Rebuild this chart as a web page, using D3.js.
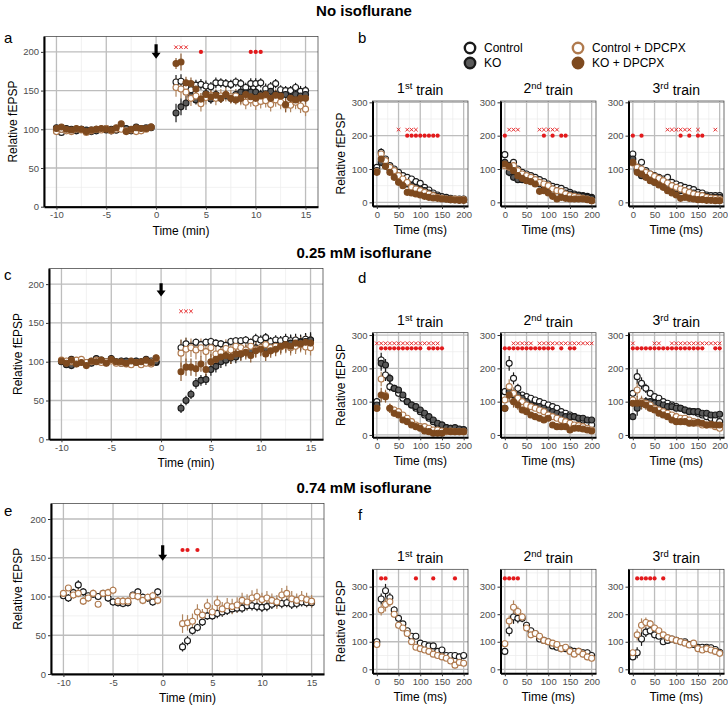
<!DOCTYPE html>
<html>
<head>
<meta charset="utf-8">
<script src="https://cdn.jsdelivr.net/npm/d3@7"></script>
<style>
  body { margin: 0; background: #fff; }
  svg text { font-family: "Liberation Sans", Arial, sans-serif; }
</style>
</head>
<body>
<svg id="fig" width="728" height="705"></svg>
<script>
// ---- x positions ----
var baseTimes = [-10,-9.5,-9,-8.5,-8,-7.5,-7,-6.5,-6,-5.5,-5,-4.5,-4,-3.5,-3,-2.5,-2,-1.5,-1,-0.5];
var postTimes = [2,2.5,3,3.5,4,4.5,5,5.5,6,6.5,7,7.5,8,8.5,9,9.5,10,10.5,11,11.5,12,12.5,13,13.5,14,14.5,15];
var minTimes = baseTimes.concat(postTimes);
var trainTimes = [0,10,20,30,40,50,60,70,80,90,100,110,120,130,140,150,160,170,180,190,200];
var trainNames = ["1", "2", "3"];
var trainSup = ["st", "nd", "rd"];
var seriesNames = ["Control", "KO", "Control + DPCPX", "KO + DPCPX"];

// ---- panel a : no isoflurane, time course ----
var a_ctrl = [98,96,100,99,98,100,99,97,98,100,101,100,99,101,100,98,102,101,102,103,
  161,162,154,151,157,158,156,155,160,160,159,158,161,159,154,159,159,160,152,155,159,151,150,150,154,149,150];
var a_ko = [102,100,101,100,99,100,98,99,100,100,99,98,99,103,101,99,103,100,101,102,
  121,129,134,143,138,137,146,139,145,140,144,140,145,148,147,148,148,145,146,149,145,143,145,141,145,143,145];
var a_ctrlD = [97,100,98,97,100,99,96,98,100,99,101,98,100,100,98,99,97,98,100,103,
  154,152,148,140,143,133,141,144,140,143,145,142,143,140,135,138,134,136,137,132,138,135,131,131,135,130,126];
var a_koD = [101,103,100,99,101,100,97,99,100,101,100,99,102,107,97,100,102,101,101,103,
  185,187,160,159,152,139,145,142,144,140,145,140,138,140,145,142,140,143,145,140,144,143,132,140,138,140,140];
var a_ctrl_se = [3,3,3,3,3,3,3,3,3,3,3,3,3,3,3,3,3,3,3,3,
  9,9,8,8,7,7,7,6,7,6,6,6,6,6,6,7,7,6,7,6,6,6,6,6,6,7,6];
var a_ko_se = [3,3,3,3,3,3,3,3,3,3,3,3,3,3,3,3,3,3,3,3,
  12,11,9,7,6,6,6,6,6,6,6,6,6,6,6,6,6,6,6,6,6,6,6,6,6,6,6];
var a_ctrlD_se = [3,3,3,3,3,3,3,3,3,3,3,3,3,3,3,3,3,3,3,3,
  12,12,11,10,10,10,9,9,9,9,9,9,9,9,9,9,9,9,9,9,9,9,9,9,9,9,9];
var a_koD_se = [3,3,3,3,3,3,3,3,3,3,3,3,3,3,3,3,3,3,3,3,
  7,11,8,8,8,8,7,7,7,6,6,6,6,7,7,7,7,6,6,6,7,7,10,8,7,7,7];
var a_sigCross = [2, 2.5, 3];
var a_sigDot = [4.5, 9.5, 10, 10.5];

// ---- panel c : 0.25 mM isoflurane ----
var c_ctrl = [101,100,103,98,101,99,100,103,101,100,102,99,98,100,100,99,98,100,101,99,
  118,123,120,125,122,125,126,124,123,121,126,127,127,128,125,130,128,131,126,128,127,129,127,128,126,129,128];
var c_ko = [100,96,95,98,100,99,98,104,102,99,104,100,101,101,98,101,100,103,98,100,
  40,50,58,72,76,77,90,94,100,102,105,106,110,114,115,118,118,117,119,121,120,122,124,123,125,126,128];
var c_ctrlD = [102,101,100,102,103,99,100,102,99,100,101,98,98,97,96,99,96,98,97,104,
  111,116,118,115,118,113,118,110,112,117,115,120,118,115,120,116,118,122,118,120,119,121,118,120,122,119,118];
var c_koD = [101,98,102,97,99,95,101,100,102,98,103,100,100,98,101,99,100,102,99,105,
  87,93,93,91,97,90,100,103,106,108,106,110,110,112,108,114,116,110,114,116,120,122,120,124,123,125,124];
var c_ctrl_se = [4,4,4,4,4,4,4,4,4,4,4,4,4,4,4,4,4,4,4,4,
  10,8,6,5,5,5,5,5,5,5,5,5,5,5,5,6,6,6,6,6,6,7,8,8,8,8,8];
var c_ko_se = [4,4,4,4,4,4,4,4,4,4,4,4,4,4,4,4,4,4,4,4,
  6,6,6,7,7,7,8,8,8,8,8,8,8,8,8,8,9,9,9,9,9,10,10,10,10,10,10];
var c_ctrlD_se = [4,4,4,4,4,4,4,4,4,4,4,4,4,4,4,4,4,4,4,4,
  18,15,12,12,12,12,12,12,12,12,10,10,10,10,10,10,10,10,10,10,10,10,10,10,10,10,10];
var c_koD_se = [4,4,4,4,4,4,4,4,4,4,4,4,4,4,4,4,4,4,4,4,
  12,11,11,10,10,10,10,10,10,9,9,9,9,9,9,9,9,9,9,9,9,9,9,9,9,9,9];
var c_sigCross = [2, 2.5, 3];
var c_sigDot = [];

// ---- panel e : 0.74 mM isoflurane ----
var e_ctrl = [101,98,105,115,106,101,103,100,104,98,93,92,91,92,102,106,99,98,93,106,
  35,43,56,60,67,75,75,78,80,82,84,85,85,88,88,87,86,87,90,92,91,92,90,91,93,92,92];
var e_ctrlD = [104,111,102,104,94,98,104,90,104,105,108,94,94,94,101,100,95,99,101,95,
  65,66,68,80,76,88,80,92,84,88,87,89,95,93,98,100,96,98,95,93,102,104,97,95,98,96,94];
var e_ctrl_se = [4,5,5,6,5,4,5,4,4,5,5,5,5,5,4,5,5,5,5,5,
  6,6,5,5,5,5,5,6,6,6,6,6,6,6,6,6,6,6,6,6,6,6,6,6,6,6,6];
var e_ctrlD_se = [4,4,5,5,5,5,5,4,4,5,5,5,5,5,4,5,5,5,5,5,
  12,10,10,10,8,9,9,9,9,10,10,10,10,10,10,10,9,9,9,9,9,10,10,9,9,9,8];
var e_sigCross = [];
var e_sigDot = [2, 2.5, 3.5];

// ---- panel b : trains, no isoflurane ----
var b_ctrl = [
  [105,150,130,110,100,90,80,75,70,62,57,45,37,28,22,17,15,12,10,10,10],
  [143,110,120,100,90,85,80,75,68,62,55,48,45,42,35,30,25,22,20,18,15],
  [145,100,120,95,85,80,75,70,75,60,55,50,45,42,38,30,28,22,20,20,20]];
var b_ko = [
  [95,120,110,100,90,75,65,55,50,45,40,35,28,22,18,12,10,8,8,7,7],
  [120,90,75,68,68,70,65,60,55,50,45,40,35,30,28,25,22,20,18,15,12],
  [130,95,80,80,70,60,60,55,50,45,40,35,35,30,28,22,20,18,15,15,15]];
var b_ctrlD = [
  [92,145,125,105,95,80,70,60,45,40,35,30,25,20,15,12,10,10,10,8,8],
  [110,105,110,95,85,80,75,68,60,55,50,40,35,33,25,20,18,15,12,10,5],
  [118,105,100,90,85,78,72,65,58,50,45,40,35,30,25,22,20,15,13,12,10]];
var b_koD = [
  [90,130,108,90,75,60,50,30,28,25,22,18,15,13,12,10,10,8,7,6,6],
  [115,108,95,80,72,65,62,55,33,35,28,18,10,15,12,10,10,10,10,8,5],
  [120,90,85,75,65,60,52,45,35,28,22,12,15,12,10,8,8,6,6,5,5]];
var b_se = [8,12,8,7,6,5,5,5,4,4,4,4,4,3,3,3,3,3,3,3,3];
var b_sigCross = [[50,70,80,90], [10,20,30,80,90,100,110,120], [80,90,100,110,120,130,150,190]];
var b_sigDot = [[70,80,90,100,110,120,130,140], [0,90,110,130,140], [0,20,110,130,150,160]];

// ---- panel d : trains, 0.25 mM isoflurane ----
var d_ctrl = [
  [100,225,180,145,140,125,110,100,90,80,70,60,50,40,32,30,22,20,18,15,15],
  [130,215,170,140,120,115,110,105,100,95,90,85,80,70,65,60,55,50,45,35,30],
  [125,175,155,140,125,115,110,100,95,90,85,80,75,72,70,65,60,55,50,45,40]];
var d_ko = [
  [90,215,210,170,140,135,120,100,90,85,75,65,55,45,35,30,22,20,22,18,16],
  [80,130,120,120,110,100,90,85,85,80,75,70,65,60,55,55,55,50,50,45,45],
  [55,80,95,100,100,95,95,90,85,85,80,80,75,70,70,70,65,65,60,60,62]];
var d_ctrlD = [
  [80,168,118,80,75,70,60,50,40,30,25,25,20,15,15,12,10,12,10,10,10],
  [105,145,125,110,100,90,85,80,75,70,60,55,50,45,40,35,30,28,25,20,15],
  [105,135,100,95,90,80,75,70,65,60,55,50,50,45,40,35,30,30,30,25,20]];
var d_koD = [
  [80,120,115,80,65,60,45,40,30,25,20,12,10,5,5,5,12,10,10,10,10],
  [80,120,100,90,75,70,60,55,50,45,50,30,25,25,25,15,20,20,18,15,12],
  [95,95,95,90,80,75,65,60,55,45,40,40,40,35,35,38,35,30,32,30,30]];
var d_se = [10,22,18,14,10,8,7,6,6,5,5,5,5,4,4,4,4,4,4,4,4];
var d_sigCross = [
  [0,10,20,30,40,50,60,70,80,90,100,110,120,130,140],
  [20,30,40,50,60,80,90,100,110,120,130,140,150,160,170,180,190,200],
  [0,50,60,90,100,110,120,130,140,150,160,170,180,190,200]];
var d_sigDot = [
  [10,20,30,40,50,60,70,80,90,100,120,130,140,150],
  [0,10,20,30,40,50,60,70,80,90,100,110,130,150,160],
  [0,10,20,30,40,50,60,70,80,90,100,110,120,130,140,150,160,190,200]];

// ---- panel f : trains, 0.74 mM isoflurane ----
var f_ctrl = [
  [100,255,285,260,215,185,165,140,120,120,95,90,85,85,65,70,50,50,50,45,50],
  [65,140,190,185,185,160,140,130,110,105,100,85,80,75,75,70,65,65,60,60,50],
  [45,60,110,135,140,125,120,100,105,110,105,100,100,90,90,80,80,80,78,72,62]];
var f_ctrlD = [
  [90,215,235,245,200,160,150,130,100,80,75,70,65,55,50,45,40,30,15,25,22],
  [93,175,225,210,190,150,125,130,120,105,100,95,90,75,80,65,55,65,55,45,40],
  [60,125,160,170,165,150,140,125,115,110,105,100,95,88,95,75,70,75,70,65,58]];
var f_se = [8,20,25,18,14,12,10,10,10,10,10,10,10,10,10,10,10,10,12,12,12];
var f_sigCross = [[], [], []];
var f_sigDot = [[10,20,90,130,180], [0,10,20,30], [10,20,30,40,50,70]];

// ---- styles ----
var styles = {
  "Control":         {fill: "#ffffff", stroke: "#1a1a1a", bar: "#1a1a1a"},
  "KO":              {fill: "#5a5a5a", stroke: "#1a1a1a", bar: "#1a1a1a"},
  "Control + DPCPX": {fill: "#ffffff", stroke: "#b07a4e", bar: "#b08660"},
  "KO + DPCPX":      {fill: "#7e4a1f", stroke: "#7e4a1f", bar: "#8a5a32"}
};
var red = "#e31a1c";

var svg = d3.select("#fig");

function txt(x, y, s, size, opts){
  opts = opts || {};
  return svg.append("text").attr("x", x).attr("y", y)
    .attr("text-anchor", opts.anchor || "start")
    .style("font-size", size + "px")
    .style("font-weight", opts.bold ? "bold" : "normal")
    .attr("fill", opts.fill || "#000")
    .text(s);
}

function grid(g, x, y, minX, minY, majX, majY){
  var x0 = x.range()[0], x1 = x.range()[1], y0 = y.range()[0], y1 = y.range()[1];
  g.append("rect").attr("x", x0).attr("y", y1).attr("width", x1 - x0).attr("height", y0 - y1).attr("fill", "#fff");
  minX.forEach(function(v){ g.append("line").attr("x1", x(v)).attr("x2", x(v)).attr("y1", y0).attr("y2", y1).attr("stroke", "#ebebeb").attr("stroke-width", 0.7); });
  minY.forEach(function(v){ g.append("line").attr("x1", x0).attr("x2", x1).attr("y1", y(v)).attr("y2", y(v)).attr("stroke", "#ebebeb").attr("stroke-width", 0.7); });
  majX.forEach(function(v){ g.append("line").attr("x1", x(v)).attr("x2", x(v)).attr("y1", y0).attr("y2", y1).attr("stroke", "#bdbdbd").attr("stroke-width", 1.3); });
  majY.forEach(function(v){ g.append("line").attr("x1", x0).attr("x2", x1).attr("y1", y(v)).attr("y2", y(v)).attr("stroke", "#bdbdbd").attr("stroke-width", 1.3); });
  g.append("rect").attr("x", x0).attr("y", y1).attr("width", x1 - x0).attr("height", y0 - y1)
    .attr("fill", "none").attr("stroke", "#333").attr("stroke-width", 0.7);
}

function axes(g, x, y, xt, yt){
  var fmt = function(d){ return String(d); };
  var bx = g.append("g").attr("transform", "translate(0," + y.range()[0] + ")")
    .call(d3.axisBottom(x).tickValues(xt).tickFormat(fmt).tickSize(3).tickSizeOuter(0).tickPadding(2));
  var ly = g.append("g").attr("transform", "translate(" + x.range()[0] + ",0)")
    .call(d3.axisLeft(y).tickValues(yt).tickFormat(fmt).tickSize(3).tickSizeOuter(0).tickPadding(2));
  [bx, ly].forEach(function(a){
    a.select(".domain").attr("stroke", "#000").attr("stroke-width", 2);
    a.selectAll(".tick line").attr("stroke", "#333");
    a.selectAll(".tick text").attr("fill", "#4d4d4d").style("font-size", "9.5px")
      .style("font-family", '"Liberation Sans", Arial, sans-serif');
  });
}

function plotSeries(g, x, y, list, r){
  list.forEach(function(s){
    var st = styles[s.name];
    g.selectAll(null).data(s.xs).enter().append("line")
      .attr("x1", function(d){ return x(d); }).attr("x2", function(d){ return x(d); })
      .attr("y1", function(d, i){ return y(s.ys[i] - s.se[i]); })
      .attr("y2", function(d, i){ return y(s.ys[i] + s.se[i]); })
      .attr("stroke", st.bar).attr("stroke-width", 1.2);
  });
  list.forEach(function(s){
    var st = styles[s.name];
    g.selectAll(null).data(s.xs).enter().append("circle")
      .attr("cx", function(d){ return x(d); })
      .attr("cy", function(d, i){ return y(s.ys[i]); })
      .attr("r", r).attr("fill", st.fill).attr("stroke", st.stroke).attr("stroke-width", 1.1);
  });
}

function sigMarks(g, x, y, crosses, crossLevel, dots, dotLevel){
  g.selectAll(null).data(crosses).enter().append("path")
    .attr("d", function(d){ var cx = x(d), cy = y(crossLevel);
      return "M" + (cx - 1.8) + "," + (cy - 1.8) + "L" + (cx + 1.8) + "," + (cy + 1.8) +
             "M" + (cx - 1.8) + "," + (cy + 1.8) + "L" + (cx + 1.8) + "," + (cy - 1.8); })
    .attr("stroke", red).attr("stroke-width", 0.9).attr("fill", "none");
  g.selectAll(null).data(dots).enter().append("circle")
    .attr("cx", function(d){ return x(d); }).attr("cy", y(dotLevel))
    .attr("r", 2.1).attr("fill", red);
}

function arrow(g, cx, yTop, yTip){
  var hw = 4.5, sw = 1.6, hh = 6;
  g.append("path")
    .attr("d", "M" + (cx - sw) + "," + yTop + "L" + (cx + sw) + "," + yTop + "L" + (cx + sw) + "," + (yTip - hh) +
      "L" + (cx + hw) + "," + (yTip - hh) + "L" + cx + "," + yTip + "L" + (cx - hw) + "," + (yTip - hh) +
      "L" + (cx - sw) + "," + (yTip - hh) + "Z")
    .attr("fill", "#000");
}

function timePanel(cfg){
  var x = d3.scaleLinear().domain([-11.25, 16.25]).range([cfg.left, cfg.right]);
  var y = d3.scaleLinear().domain([0, 220]).range([cfg.bottom, cfg.top]);
  var g = svg.append("g");
  grid(g, x, y, [-7.5, -2.5, 2.5, 7.5, 12.5], [25, 75, 125, 175], [-10, -5, 0, 5, 10, 15], [0, 50, 100, 150, 200]);
  arrow(g, x(0), y(cfg.arrow[0]), y(cfg.arrow[1]));
  sigMarks(g, x, y, cfg.cross, cfg.crossLevel, cfg.dots, cfg.dotLevel);
  plotSeries(g, x, y, cfg.series.map(function(s){ return {name: s[0], xs: minTimes, ys: s[1], se: s[2]}; }), 3.0);
  axes(g, x, y, [-10, -5, 0, 5, 10, 15], [0, 50, 100, 150, 200]);
  txt((cfg.left + cfg.right) / 2, cfg.bottom + 28, "Time (min)", 12, {anchor: "middle"});
  svg.append("text").attr("transform", "translate(" + cfg.yTitleX + "," + ((cfg.top + cfg.bottom) / 2) + ") rotate(-90)")
    .attr("text-anchor", "middle").style("font-size", "12px").attr("dy", "0.35em").text("Relative fEPSP");
}

function trainRow(cfg){
  var lefts = [372.5, 500.5, 628.5], w = 95.5;
  lefts.forEach(function(left, k){
    var x = d3.scaleLinear().domain([-10, 210]).range([left, left + w]);
    var y = d3.scaleLinear().domain(cfg.ydom).range([cfg.bottom, cfg.top]);
    var g = svg.append("g");
    grid(g, x, y, [25, 75, 125, 175], cfg.minY, [0, 50, 100, 150, 200], [0, 100, 200, 300]);
    sigMarks(g, x, y, cfg.cross[k], cfg.crossLevel, cfg.dots[k], cfg.dotLevel);
    plotSeries(g, x, y, cfg.series.map(function(s){ return {name: s[0], xs: trainTimes, ys: s[1][k], se: s[2]}; }), 3.0);
    axes(g, x, y, [0, 50, 100, 150, 200], [0, 100, 200, 300]);
    var t = svg.append("text").attr("x", left + w / 2).attr("y", cfg.titleY).attr("text-anchor", "middle")
      .style("font-size", "14px");
    t.append("tspan").text(trainNames[k]);
    t.append("tspan").attr("dy", "-0.45em").style("font-size", "9.5px").text(trainSup[k]);
    t.append("tspan").attr("dy", "0.45em").text(" train");
    txt(left + w / 2, cfg.bottom + 28, "Time (ms)", 12, {anchor: "middle"});
  });
  svg.append("text").attr("transform", "translate(341," + ((cfg.top + cfg.bottom) / 2) + ") rotate(-90)")
    .attr("text-anchor", "middle").style("font-size", "12px").attr("dy", "0.35em").text("Relative fEPSP");
}

// ---- section titles and panel letters ----
txt(364, 16, "No isoflurane", 15, {anchor: "middle", bold: true});
txt(364, 258, "0.25 mM isoflurane", 15, {anchor: "middle", bold: true});
txt(364, 493, "0.74 mM isoflurane", 15, {anchor: "middle", bold: true});
txt(4, 43, "a", 15); txt(358, 43, "b", 15);
txt(4, 280, "c", 15); txt(358, 283, "d", 15);
txt(4, 516, "e", 15); txt(358, 520, "f", 15);

// ---- panels ----
timePanel({left: 44, right: 318, top: 36.4, bottom: 206.7, yTitleX: 13, arrow: [210, 191],
  cross: a_sigCross, crossLevel: 206, dots: a_sigDot, dotLevel: 200,
  series: [["Control", a_ctrl, a_ctrl_se], ["KO", a_ko, a_ko_se], ["Control + DPCPX", a_ctrlD, a_ctrlD_se], ["KO + DPCPX", a_koD, a_koD_se]]});
timePanel({left: 49, right: 323, top: 268.6, bottom: 439.3, yTitleX: 18, arrow: [201, 184],
  cross: c_sigCross, crossLevel: 165, dots: c_sigDot, dotLevel: 165,
  series: [["Control", c_ctrl, c_ctrl_se], ["KO", c_ko, c_ko_se], ["Control + DPCPX", c_ctrlD, c_ctrlD_se], ["KO + DPCPX", c_koD, c_koD_se]]});
timePanel({left: 51, right: 324, top: 503.5, bottom: 674, yTitleX: 18, arrow: [166, 146],
  cross: e_sigCross, crossLevel: 160, dots: e_sigDot, dotLevel: 160,
  series: [["Control", e_ctrl, e_ctrl_se], ["Control + DPCPX", e_ctrlD, e_ctrlD_se]]});

trainRow({top: 101, bottom: 206, ydom: [-11, 304], minY: [50, 150, 250], titleY: 93,
  cross: b_sigCross, crossLevel: 218, dots: b_sigDot, dotLevel: 200,
  series: [["Control", b_ctrl, b_se], ["KO", b_ko, b_se], ["Control + DPCPX", b_ctrlD, b_se], ["KO + DPCPX", b_koD, b_se]]});
trainRow({top: 332.7, bottom: 437.3, ydom: [-7, 307], minY: [50, 150, 250], titleY: 325,
  cross: d_sigCross, crossLevel: 275, dots: d_sigDot, dotLevel: 260,
  series: [["Control", d_ctrl, d_se], ["KO", d_ko, d_se], ["Control + DPCPX", d_ctrlD, d_se], ["KO + DPCPX", d_koD, d_se]]});
trainRow({top: 569.3, bottom: 673.3, ydom: [-14.5, 363], minY: [50, 150, 250, 350], titleY: 561,
  cross: f_sigCross, crossLevel: 345, dots: f_sigDot, dotLevel: 330,
  series: [["Control", f_ctrl, f_se], ["Control + DPCPX", f_ctrlD, f_se]]});

// ---- legend ----
var legendPos = [[470, 48], [470, 63], [578, 48], [578, 63]];
seriesNames.forEach(function(n, i){
  var st = styles[n];
  svg.append("circle").attr("cx", legendPos[i][0]).attr("cy", legendPos[i][1]).attr("r", 5.2)
    .attr("fill", st.fill).attr("stroke", st.stroke).attr("stroke-width", 2.4);
  txt(legendPos[i][0] + 14, legendPos[i][1] + 4.3, n, 12);
});
</script>
</body>
</html>
